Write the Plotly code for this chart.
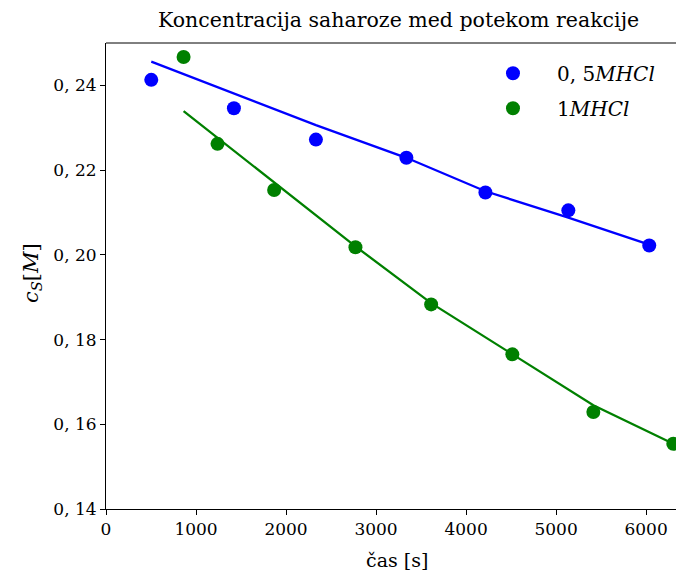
import plotly.graph_objects as go

# Data
t_05 = [503, 1421, 2332, 3337, 4215, 5136, 6035]
c_05 = [0.2413, 0.2346, 0.2272, 0.2229, 0.2147, 0.2105, 0.2022]
fit_05 = [0.2456, 0.2380, 0.2306, 0.2229, 0.2150, 0.2088, 0.2024]

t_1 = [862, 1239, 1868, 2771, 3612, 4514, 5414, 6302]
c_1 = [0.2467, 0.2262, 0.2153, 0.2018, 0.1883, 0.1765, 0.1629, 0.1554]
fit_1 = [0.2339, 0.2276, 0.2170, 0.2020, 0.1886, 0.1765, 0.1645, 0.1554]

x_ticks = [0, 1000, 2000, 3000, 4000, 5000, 6000]
x_ticktext = ["0", "1000", "2000", "3000", "4000", "5000", "6000"]
y_ticks = [0.14, 0.16, 0.18, 0.20, 0.22, 0.24]
y_ticktext = ["0, 14", "0, 16", "0, 18", "0, 20", "0, 22", "0, 24"]

BLUE = "#0000ff"
GREEN = "#008000"
FONT = "DejaVu Serif"

# figure is placed at an 8px page offset; size it so it fills the window
W, H = 676, 566
ML, MR, MT, MB = 98, 0, 35, 65
PW, PH = W - ML - MR, H - MT - MB

def px_x(x):  # figure px -> paper x
    return (x - ML) / PW

def px_y(y):  # figure px -> paper y
    return (H - MB - y) / PH

fig = go.Figure()
fig.add_trace(go.Scatter(x=t_05, y=fit_05, mode="lines", line=dict(color=BLUE, width=2.3),
                         showlegend=False, hoverinfo="skip"))
fig.add_trace(go.Scatter(x=t_1, y=fit_1, mode="lines", line=dict(color=GREEN, width=2.3),
                         showlegend=False, hoverinfo="skip"))
fig.add_trace(go.Scatter(x=t_05, y=c_05, mode="markers", name="0, 5<i>MHCl</i>",
                         marker=dict(color=BLUE, size=14), legendgroup="a"))
fig.add_trace(go.Scatter(x=t_1, y=c_1, mode="markers", name="1<i>MHCl</i>",
                         marker=dict(color=GREEN, size=14), legendgroup="b"))

axis_common = dict(showline=True, linecolor="black", linewidth=1, ticks="outside",
                   ticklen=5, tickwidth=1, tickcolor="black", showgrid=False, zeroline=False,
                   tickfont=dict(family=FONT, size=17, color="black"))

fig.update_layout(
    width=W, height=H,
    margin=dict(l=ML, r=MR, t=MT, b=MB, autoexpand=False),
    plot_bgcolor="white", paper_bgcolor="white",
    xaxis=dict(range=[0, 6421], tickvals=x_ticks, ticktext=x_ticktext, **axis_common),
    yaxis=dict(range=[0.14, 0.25], tickvals=y_ticks, ticktext=y_ticktext, **axis_common),
    legend=dict(x=0.628, y=0.977, xanchor="left", yanchor="top", bgcolor="rgba(0,0,0,0)",
                font=dict(family=FONT, size=20, color="black"), tracegroupgap=6,
                itemwidth=78),
    showlegend=True,
)
fig.add_shape(type="line", xref="paper", yref="paper", x0=0, x1=1, y0=1, y1=1,
              line=dict(color="black", width=1))
fig.add_annotation(text="Koncentracija saharoze med potekom reakcije", xref="paper", yref="paper",
                   x=px_x(390), y=px_y(12), xanchor="center", yanchor="middle", showarrow=False,
                   font=dict(family=FONT, size=20.5, color="black"))
fig.add_annotation(text="čas [s]", xref="paper", yref="paper",
                   x=px_x(389), y=px_y(552), xanchor="center", yanchor="middle", showarrow=False,
                   font=dict(family=FONT, size=19, color="black"))
fig.add_annotation(text="<i>c</i><sub><i>S</i></sub>[<i>M</i>]", xref="paper", yref="paper",
                   x=px_x(24), y=px_y(265), xanchor="center", yanchor="middle",
                   showarrow=False, textangle=-90,
                   font=dict(family=FONT, size=21, color="black"))

fig.write_html("out.html")
